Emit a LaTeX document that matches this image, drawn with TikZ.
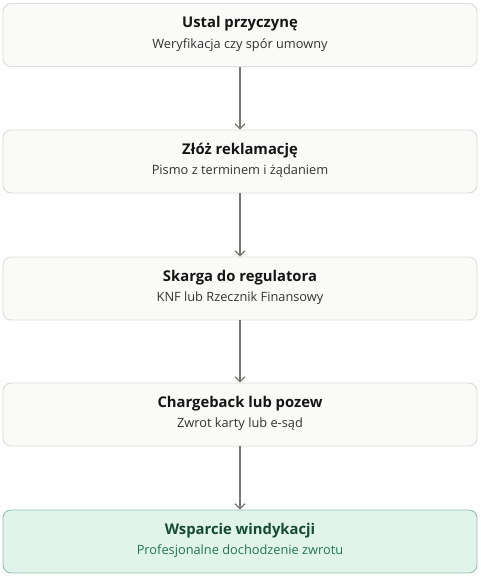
\documentclass[tikz,border=0pt]{standalone}
\usepackage{fontspec}
\setmainfont{Open Sans}
\usetikzlibrary{arrows.meta}
\definecolor{boxfill}{HTML}{FAFAF8}
\definecolor{boxdraw}{HTML}{DCDCDA}
\definecolor{titlec}{HTML}{151515}
\definecolor{subc}{HTML}{333333}
\definecolor{arrc}{HTML}{777773}
\definecolor{gfill}{HTML}{E1F4EC}
\definecolor{gdraw}{HTML}{8CC2A8}
\definecolor{gtitle}{HTML}{174A35}
\definecolor{gsub}{HTML}{237552}
\tikzset{
  stepbox/.style={draw=boxdraw, fill=boxfill, line width=0.9pt, rounded corners=8pt,
    minimum width=474pt, minimum height=63pt, inner sep=0pt},
  greenbox/.style={stepbox, draw=gdraw, fill=gfill},
  ttl/.style={font=\fontsize{14.8}{17}\selectfont\bfseries, text=titlec, inner sep=0pt},
  sub/.style={font=\fontsize{12.8}{15}\selectfont, text=subc, inner sep=0pt},
  conn/.style={draw=arrc, line width=1.4pt, -{Straight Barb[length=5pt,width=10pt,line width=1.2pt]}}
}
\begin{document}
\begin{tikzpicture}[x=1pt,y=1pt]
\useasboundingbox (0,0) rectangle (480,-577);
\node[stepbox] (b1) at (240,-35) {};
\node[stepbox] (b2) at (240,-161.5) {};
\node[stepbox] (b3) at (240,-288.5) {};
\node[stepbox] (b4) at (240,-414.5) {};
\node[greenbox] (b5) at (240,-541.5) {};
\node[ttl] (t1) at ([yshift=11pt]b1.center) {Ustal przyczynę};
\node[sub] (s1) at ([yshift=-10pt]b1.center) {Weryfikacja czy spór umowny};
\node[ttl] (t2) at ([yshift=11pt]b2.center) {Złóż reklamację};
\node[sub] (s2) at ([yshift=-10pt]b2.center) {Pismo z terminem i żądaniem};
\node[ttl] (t3) at ([yshift=11pt]b3.center) {Skarga do regulatora};
\node[sub] (s3) at ([yshift=-10pt]b3.center) {KNF lub Rzecznik Finansowy};
\node[ttl] (t4) at ([yshift=11pt]b4.center) {Chargeback lub pozew};
\node[sub] (s4) at ([yshift=-10pt]b4.center) {Zwrot karty lub e-sąd};
\node[ttl, text=gtitle] (t5) at ([yshift=11pt]b5.center) {Wsparcie windykacji};
\node[sub, text=gsub] (s5) at ([yshift=-10pt]b5.center) {Profesjonalne dochodzenie zwrotu};
\draw[conn] (b1.south) -- (b2.north);
\draw[conn] (b2.south) -- (b3.north);
\draw[conn] (b3.south) -- (b4.north);
\draw[conn] (b4.south) -- (b5.north);
\end{tikzpicture}
\end{document}
